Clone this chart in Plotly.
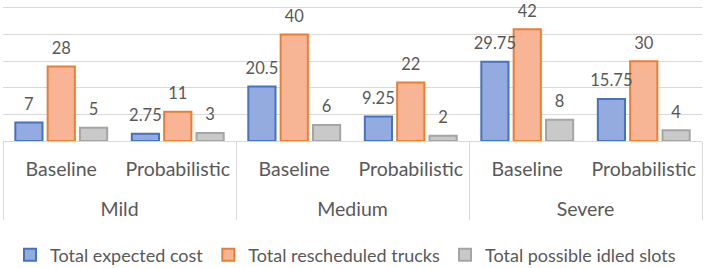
import plotly.graph_objects as go

severity = ["Mild", "Mild", "Medium", "Medium", "Severe", "Severe"]
method = ["Baseline", "Probabilistic"] * 3
expected_cost = [7, 2.75, 20.5, 9.25, 29.75, 15.75]
rescheduled_trucks = [28, 11, 40, 22, 42, 30]
idled_slots = [5, 3, 6, 2, 8, 4]

series = [
    ("Total expected cost", expected_cost, "#93ABDF", "#4472C4"),
    ("Total rescheduled trucks", rescheduled_trucks, "#F8B595", "#ED7D31"),
    ("Total possible idled slots", idled_slots, "#C9C9C9", "#A5A5A5"),
]

FONT = "Lato"
GRAY = "#595959"
GAP = 0.167

group_labels = ["<br>" + s for s in severity]

fig = go.Figure()
for i, (name, vals, fill, line) in enumerate(series):
    fig.add_trace(go.Bar(
        name=name,
        x=[group_labels, method],
        y=vals,
        offsetgroup=str(i),
        marker=dict(color=fill, line=dict(color=line, width=2)),
        hoverinfo="skip",
    ))
for i, (name, vals, fill, line) in enumerate(series):
    fig.add_trace(go.Scatter(
        x=[group_labels, method],
        y=vals,
        offsetgroup=str(i),
        mode="markers+text",
        marker=dict(size=12, color="rgba(0,0,0,0)"),
        text=[f"{v:g}" for v in vals],
        textposition="top center",
        textfont=dict(family=FONT, size=16.5, color=GRAY),
        cliponaxis=False,
        showlegend=False,
        hoverinfo="skip",
    ))

fig.update_layout(
    width=706, height=268,
    margin=dict(l=3, r=4, t=0, b=127, autoexpand=False),
    paper_bgcolor="white", plot_bgcolor="white",
    barmode="group", bargap=GAP, bargroupgap=0.16,
    scattermode="group", scattergap=GAP,
    font=dict(family=FONT, color=GRAY),
    showlegend=True,
    legend=dict(orientation="h", x=0.49, xanchor="center", yref="container", y=13 / 268,
                yanchor="middle", font=dict(family=FONT, size=18, color=GRAY),
                traceorder="normal"),
)
fig.update_yaxes(range=[0, 53], dtick=10, showticklabels=False, gridcolor="#D9D9D9",
                 gridwidth=1, zeroline=False, showline=False, automargin=False)
fig.update_xaxes(type="multicategory", showline=True, linecolor="#D9D9D9", linewidth=1,
                 tickfont=dict(family=FONT, size=19.5, color=GRAY), automargin=False,
                 ticklabelstandoff=11,
                 dividercolor="#D9D9D9", dividerwidth=1, showdividers=True)

fig.write_html("out.html", config={"displayModeBar": False},
               post_script="document.body.style.margin='0px';")
